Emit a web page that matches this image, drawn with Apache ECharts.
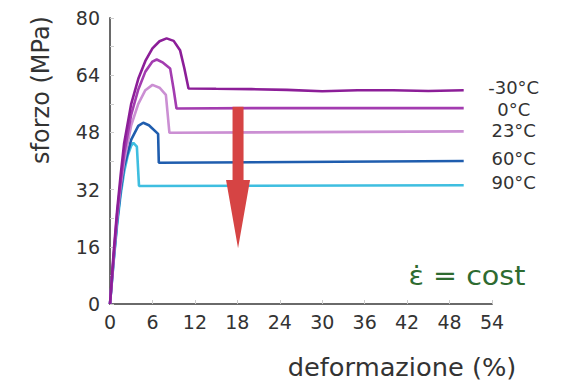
<!DOCTYPE html>
<html><head><meta charset="utf-8">
<script src="https://cdn.jsdelivr.net/npm/echarts@6/dist/echarts.min.js"></script>
<style>html,body{margin:0;padding:0;background:#fff}#c{width:564px;height:387px}</style>
</head><body><div id="c"></div>
<script>
// Data
const seriesNames = ['-30°C', '0°C', '23°C', '60°C', '90°C'];
const xTicks = [0, 6, 12, 18, 24, 30, 36, 42, 48, 54];
const yTicks = [0, 16, 32, 48, 64, 80];
const curveM30 = [[0,0],[0.5,14],[1,26],[1.5,36],[2,45],[3,56],[4,63],[5,68],[6,71.5],[7,73.5],[8,74.3],[9,73.6],[9.9,71],[10.5,66],[11.1,60.3],[15,60.2],[20,60.1],[25,59.9],[30,59.5],[35,59.8],[40,59.8],[45,59.6],[50,59.8]];
const curve0 = [[0,0],[0.5,13],[1,25],[1.5,34],[2,42],[3,53],[4,60],[5,65],[6,67.8],[6.6,68.4],[7.5,67.5],[8.5,65.9],[9,60],[9.4,54.7],[20,54.8],[50,54.8]];
const curve23 = [[0,0],[0.5,12.5],[1,24],[1.5,33],[2,40],[3,50],[4,56],[5,59.8],[6,61.3],[7,60.5],[7.9,58.5],[8.4,47.9],[50,48.3]];
const curve60 = [[0,0],[0.5,12],[1,23],[1.5,31.5],[2,38.5],[3,46],[4,49.8],[4.7,50.7],[5.5,50],[6.8,47.6],[6.9,39.5],[50,40]];
const curve90 = [[0,0],[0.5,11.5],[1,22],[1.5,30.5],[2,37],[2.5,41.5],[3,44.3],[3.3,45.1],[3.8,44],[4.1,33],[50,33.2]];
const curves = [curveM30, curve0, curve23, curve60, curve90];
// arrow annotation: [x, yTop, yHeadStart, yTip]
const arrowData = [[18.1, 55.2, 34.7, 15.6]];

const colors = ['#8C1E98', '#A33CB0', '#CB8FD3', '#1F5DAE', '#3EBEE0'];
const labelOffsets = [[0,-3],[0,1],[0,-1],[0,-3],[0,-3]];

const chart = echarts.init(document.getElementById('c'), null, {renderer: 'svg'});
const txt = '#333';
const series = curves.map((d, i) => ({
  type: 'line', name: seriesNames[i], data: d, showSymbol: false, symbol: 'none',
  lineStyle: {color: colors[i], width: 2.6}, z: 5 - i,
  endLabel: {show: true, formatter: seriesNames[i], color: txt, fontSize: 18, lineHeight: 16,
    fontFamily: 'DejaVu Sans', align: 'center', distance: 50, offset: labelOffsets[i]},
  animation: false
}));
series.push({
  type: 'custom', data: arrowData, z: 10, animation: false,
  renderItem: function (params, api) {
    const x = api.value(0);
    const top = api.coord([x, api.value(1)]);
    const hs = api.coord([x, api.value(2)]);
    const tip = api.coord([x, api.value(3)]);
    const sw = 5.5, hw = 12;
    return {
      type: 'polygon',
      shape: {points: [[top[0]-sw, top[1]], [top[0]+sw, top[1]], [hs[0]+sw, hs[1]], [hs[0]+hw, hs[1]],
        [tip[0], tip[1]], [hs[0]-hw, hs[1]], [hs[0]-sw, hs[1]]]},
      style: {fill: '#D64444'}
    };
  }
});

chart.setOption({
  animation: false,
  grid: {left: 110, right: 72, top: 18, bottom: 83, containLabel: false},
  xAxis: {
    type: 'value', min: 0, max: 54, interval: 6,
    axisLine: {lineStyle: {color: '#6a6a6a', width: 2}},
    axisTick: {show: true, inside: true, length: 4, lineStyle: {color: '#ccc'}},
    axisLabel: {color: txt, fontSize: 19, fontFamily: 'DejaVu Sans', margin: 8,
      formatter: v => xTicks.includes(v) ? String(v) : ''},
    splitLine: {show: false}
  },
  yAxis: {
    type: 'value', min: 0, max: 80, interval: 16,
    axisLine: {show: true, lineStyle: {color: '#6a6a6a', width: 2}},
    axisTick: {show: true, inside: true, length: 4, lineStyle: {color: '#ccc'}},
    minorTick: {show: true, splitNumber: 2, length: 4, lineStyle: {color: '#ccc'}},
    axisLabel: {color: txt, fontSize: 19, fontFamily: 'DejaVu Sans', margin: 10,
      formatter: v => yTicks.includes(v) ? String(v) : ''},
    splitLine: {show: false}
  },
  graphic: [
    {type: 'text', x: 41, y: 90, rotation: Math.PI/2,
      style: {text: 'sforzo (MPa)', fill: txt, font: '24px "DejaVu Sans"', align: 'center', verticalAlign: 'middle'}},
    {type: 'text', x: 402, y: 368, scaleX: 1.07,
      style: {text: 'deformazione (%)', fill: txt, font: '24px "DejaVu Sans"', align: 'center', verticalAlign: 'middle'}},
    {type: 'text', x: 467, y: 276, scaleX: 1.1,
      style: {text: 'ε\u0307 = cost', fill: '#2E6B30', font: '26px "DejaVu Sans"', align: 'center', verticalAlign: 'middle'}}
  ],
  series: series
});
</script></body></html>
